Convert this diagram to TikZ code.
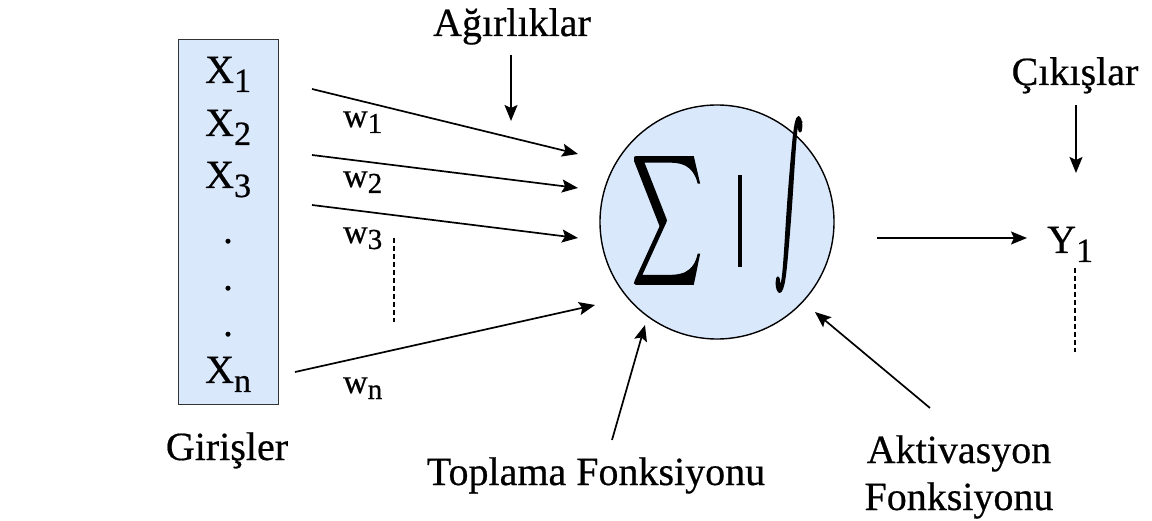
\documentclass[tikz,border=0pt]{standalone}
\usepackage{fontspec}
\setmainfont{Liberation Serif}
\usetikzlibrary{arrows.meta}
\definecolor{boxblue}{HTML}{DAE8FC}
\newcommand{\xsub}[1]{\raisebox{-9pt}{\fontsize{34pt}{34pt}\selectfont #1}}
\newcommand{\wsub}[1]{\raisebox{-6pt}{\fontsize{29pt}{29pt}\selectfont #1}}
\newcommand{\heavy}[2]{\special{pdf:literal direct 2 Tr #1 w}#2\special{pdf:literal direct 0 Tr}}
\tikzset{
  lbl/.style={font=\fontsize{40pt}{45pt}\selectfont, inner sep=0pt, anchor=base west,
    execute at begin node={\special{pdf:literal direct 2 Tr 0.2 w}},
    execute at end node={\special{pdf:literal direct 0 Tr}}},
  clbl/.style={lbl, anchor=base},
  wlbl/.style={lbl, font=\fontsize{34pt}{34pt}\selectfont},
  arr/.style={line width=1.7pt, -{Stealth[length=16pt,width=13pt,inset=3pt]}},
  dashline/.style={line width=1.3pt, dash pattern=on 5pt off 3pt},
  bluefill/.style={fill=boxblue, draw=black, line width=1.4pt}
}
\begin{document}
\begin{tikzpicture}[x=1pt,y=-1pt]
\useasboundingbox (0,0) rectangle (1152,521);
% input box
\node[bluefill, draw=black!80, minimum width=100pt, minimum height=365pt, anchor=north west, inner sep=0pt] (inbox) at (178,39) {};
\node[lbl] (x1) at (205,83) {X\xsub{1}};
\node[lbl] (x2) at (205,136) {X\xsub{2}};
\node[lbl] (x3) at (205,188) {X\xsub{3}};
\node[clbl] (d1) at (228,243) {.};
\node[clbl] (d2) at (228,290) {.};
\node[clbl] (d3) at (228,336) {.};
\node[lbl] (xn) at (205,383) {X\xsub{n}};
\node[clbl] (gir) at (227,460) {Girişler};
% weights
\node[wlbl] (w1) at (343,127) {w\wsub{1}};
\node[wlbl] (w2) at (343,187) {w\wsub{2}};
\node[wlbl] (w3) at (343,243) {w\wsub{3}};
\node[wlbl] (wn) at (343,393) {w\wsub{n}};
\coordinate (t1) at (312,89);  \coordinate (h1) at (578,154);
\coordinate (t2) at (312,155); \coordinate (h2) at (578,188);
\coordinate (t3) at (312,205); \coordinate (h3) at (578,238);
\coordinate (tn) at (295,372); \coordinate (hn) at (595,305);
\draw[arr] (t1) -- (h1);
\draw[arr] (t2) -- (h2);
\draw[arr] (t3) -- (h3);
\draw[arr] (tn) -- (hn);
\coordinate (ws1) at (394,238); \coordinate (ws2) at (394,322);
\draw[dashline] (ws1) -- (ws2);
% Agirliklar
\node[clbl] (agr) at (512,36) {Ağırlıklar};
\coordinate (agrs) at (511,55); \coordinate (agre) at (511,121);
\draw[arr] (agrs) -- (agre);
% neuron
\node[circle, bluefill, minimum size=234pt, inner sep=0pt] (neuron) at (717,222) {};
\node[inner sep=0pt] (sig) at (667,220.5) {\resizebox{70pt}{95pt}{\heavy{0.25}{$\displaystyle\sum$}}};
\node[fill=black, inner sep=0pt, minimum width=3.5pt, minimum height=92pt] (bar) at (740,221) {};
\node[inner sep=0pt] (integ) at (789,204.5) {\resizebox{28pt}{105pt}{\heavy{0.7}{$\displaystyle\int$}}};
% output
\coordinate (os) at (877,238); \coordinate (oe) at (1027,238);
\draw[arr] (os) -- (oe);
\node[lbl] (y1) at (1047,253) {Y\xsub{1}};
\coordinate (ys1) at (1075,268); \coordinate (ys2) at (1075,352);
\draw[dashline] (ys1) -- (ys2);
\node[clbl] (cik) at (1075,85) {Çıkışlar};
\coordinate (cs) at (1076,105); \coordinate (ce) at (1076,173);
\draw[arr] (cs) -- (ce);
% functions
\node[clbl] (top) at (596,485) {Toplama Fonksiyonu};
\coordinate (ts) at (612,440); \coordinate (te) at (645,325);
\draw[arr] (ts) -- (te);
\node[clbl] (akt1) at (959,463) {Aktivasyon};
\node[clbl] (akt2) at (959,510) {Fonksiyonu};
\coordinate (as) at (930,408); \coordinate (ae) at (815,312);
\draw[arr] (as) -- (ae);
\end{tikzpicture}
\end{document}
